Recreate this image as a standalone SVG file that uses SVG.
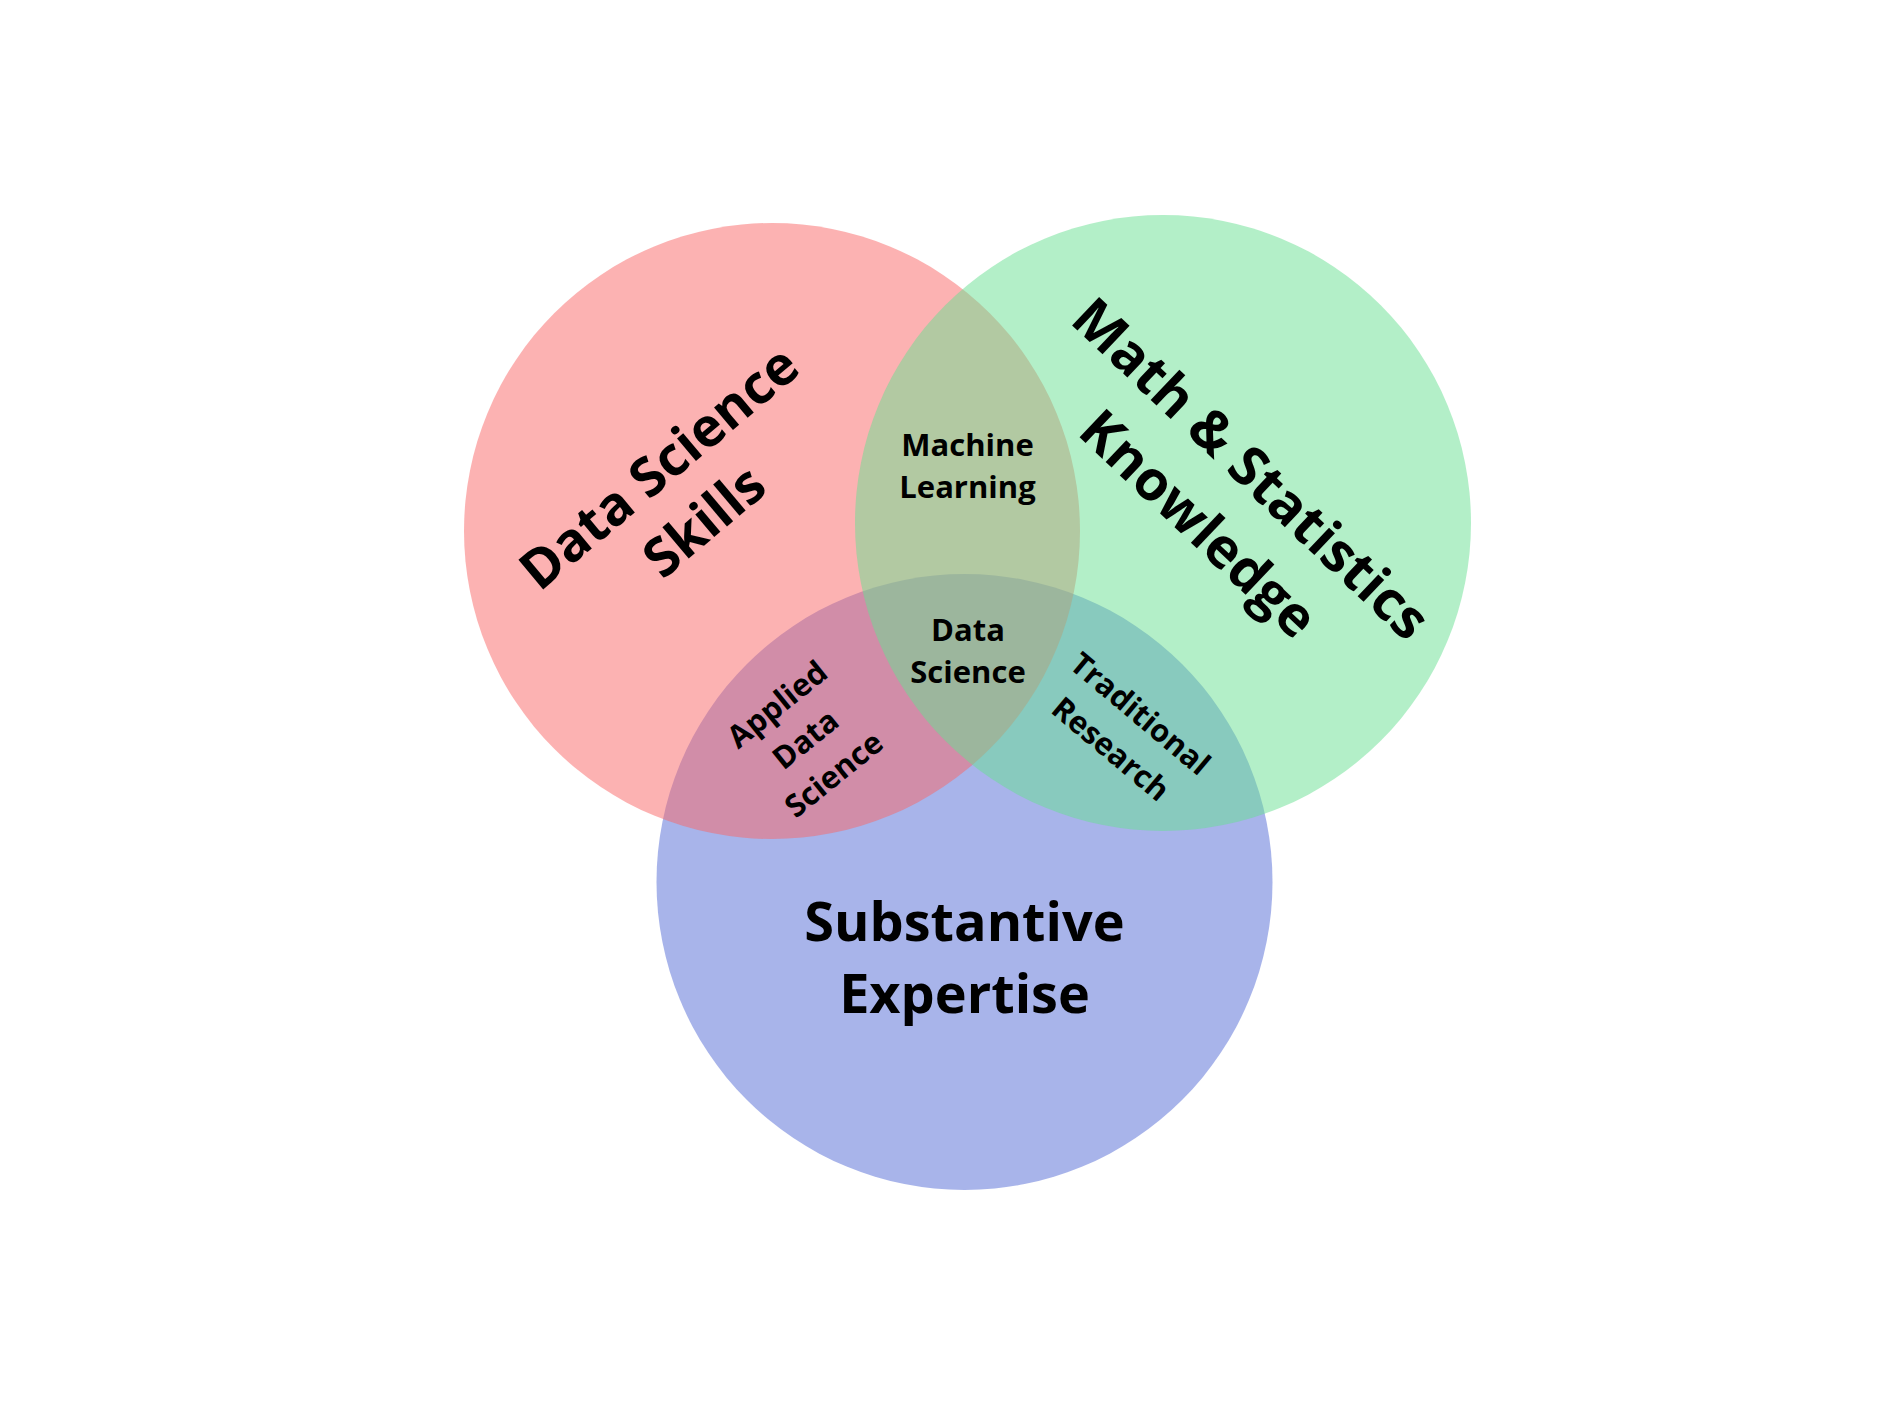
<svg xmlns="http://www.w3.org/2000/svg" width="1900" height="1425" viewBox="0 0 1900 1425">
<style>
.c{opacity:0.5}
.t{font-family:'Open Sans','Noto Sans',sans-serif;font-weight:700;text-anchor:middle;fill:#000}
.big{font-size:54px}
.small{font-size:31px}
</style>
<rect width="1900" height="1425" fill="#ffffff"/>
<g id="substantive-expertise">
<circle class="c" cx="964.5" cy="882" r="308" fill="#5169D5"/>
<text class="t big" x="964.5" y="941">Substantive</text>
<text class="t big" x="964.5" y="1013">Expertise</text>
</g>
<g id="data-science-skills">
<circle class="c" cx="772" cy="531" r="308" fill="#FA6666"/>
<g transform="translate(682,495) rotate(-40)">
<text class="t big" x="0" y="-17">Data Science</text>
<text class="t big" x="0" y="53">Skills</text>
</g>
</g>
<g id="math-statistics-knowledge">
<circle class="c" cx="1163" cy="523" r="308" fill="#67DF91"/>
<g transform="translate(1224,497) rotate(43.5)">
<text class="t big" x="0" y="-20" style="font-size:55px">Math &amp; Statistics</text>
<text class="t big" x="0" y="56" style="font-size:55px">Knowledge</text>
</g>
</g>
<g id="machine-learning">
<text class="t small" x="967.5" y="456">Machine</text>
<text class="t small" x="967.5" y="498">Learning</text>
</g>
<g id="data-science">
<text class="t small" x="968" y="641">Data</text>
<text class="t small" x="968" y="683">Science</text>
</g>
<g id="applied-data-science" transform="translate(806,740) rotate(-39)">
<text class="t small" x="0" y="-35">Applied</text>
<text class="t small" x="0" y="10">Data</text>
<text class="t small" x="0" y="55">Science</text>
</g>
<g id="traditional-research" transform="translate(1125,732) rotate(40)">
<text class="t small" x="0" y="-13">Traditional</text>
<text class="t small" x="0" y="33">Research</text>
</g>
<g id="connectors"/>
</svg>
